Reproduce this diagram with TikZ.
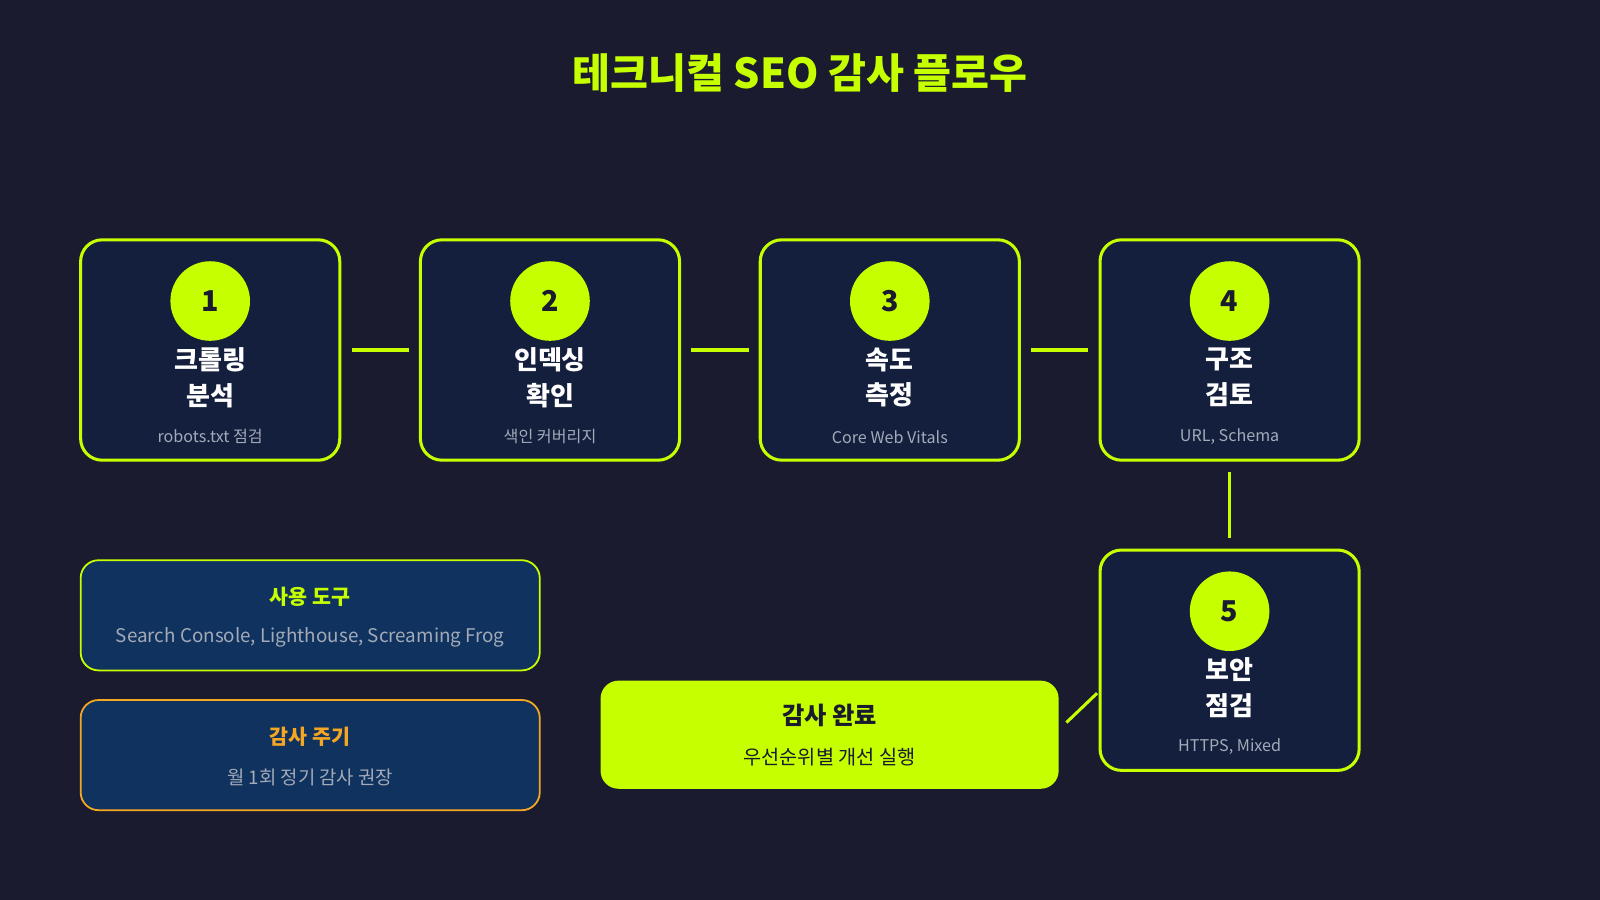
\documentclass[tikz,border=0pt]{standalone}
\usepackage{fontspec}
\setmainfont{Noto Sans CJK KR}
\usetikzlibrary{positioning}
\definecolor{bgdark}{HTML}{1A1B2E}
\definecolor{boxnavy}{HTML}{141F3D}
\definecolor{boxblue}{HTML}{10325E}
\definecolor{lime}{HTML}{C6FF00}
\definecolor{amber}{HTML}{F5A623}
\definecolor{greytext}{HTML}{A3AAB8}
\tikzset{
  stepbox/.style={draw=lime, line width=1.7pt, fill=boxnavy, rounded corners=12pt,
    minimum width=5.08cm, minimum height=4.32cm},
  stepnum/.style={circle, fill=lime, minimum size=1.56cm, inner sep=0pt,
    font=\fontsize{16}{16}\bfseries\selectfont, text=bgdark},
  steplabel/.style={align=center, text=white, font=\fontsize{14.5}{20}\bfseries\selectfont},
  stepnote/.style={text=greytext, font=\fontsize{9}{11}\selectfont},
  infobox/.style={line width=1pt, fill=boxblue, rounded corners=10pt,
    minimum width=9cm, minimum height=2.16cm},
  link/.style={draw=lime, line width=1.7pt, shorten <=0.2cm, shorten >=0.2cm}
}
\begin{document}
\begin{tikzpicture}[x=0.02cm, y=-0.02cm]
\fill[bgdark] (0,0) rectangle (1568,882);
\node[text=lime, font=\fontsize{23}{23}\bfseries\selectfont] (title) at (784,72) {테크니컬 SEO 감사 플로우};

% steps
\foreach \i/\x/\y/\la/\lb/\note in {
    1/206/343/크롤링/분석/robots.txt 점검,
    2/539/343/인덱싱/확인/색인 커버리지,
    3/872/343/속도/측정/Core Web Vitals,
    4/1205/343/구조/검토/{URL, Schema},
    5/1205/647/보안/점검/{HTTPS, Mixed}} {
  \node[stepbox] (b\i) at (\x,\y) {};
  \node[stepnum] (n\i) at (\x,\y-48) {\i};
  \node[steplabel] (l\i) at (\x,\y+27) {\la\\\lb};
  \node[stepnote] (t\i) at (\x,\y+85) {\note};
}

\draw[link] (b1) -- (b2);
\draw[link] (b2) -- (b3);
\draw[link] (b3) -- (b4);
\draw[link] (b4) -- (b5);

% info boxes
\node[infobox, draw=lime] (tools) at (304,603) {};
\node[text=lime, font=\fontsize{11.5}{12}\bfseries\selectfont] (toolstitle) at (304,585) {사용 도구};
\node[text=greytext, font=\fontsize{10.5}{12}\selectfont] (toolstext) at (304,625) {Search Console, Lighthouse, Screaming Frog};

\node[infobox, draw=amber] (cycle) at (304,740) {};
\node[text=amber, font=\fontsize{11.5}{12}\bfseries\selectfont] (cycletitle) at (304,722) {감사 주기};
\node[text=greytext, font=\fontsize{10.5}{12}\selectfont] (cycletext) at (304,762) {월 1회 정기 감사 권장};

% result
\node[fill=lime, rounded corners=10pt, minimum width=8.98cm, minimum height=2.12cm] (done) at (813,720) {};
\node[text=bgdark, font=\fontsize{13.5}{14}\bfseries\selectfont] (donetitle) at (813,701) {감사 완료};
\node[text=bgdark, font=\fontsize{11}{12}\selectfont] (donetext) at (813,742) {우선순위별 개선 실행};

\draw[draw=lime, line width=1.7pt, shorten <=0.2cm, shorten >=0.04cm]
  ([yshift=0.1cm]done.east) -- ([yshift=-0.62cm]b5.west);
\end{tikzpicture}
\end{document}
